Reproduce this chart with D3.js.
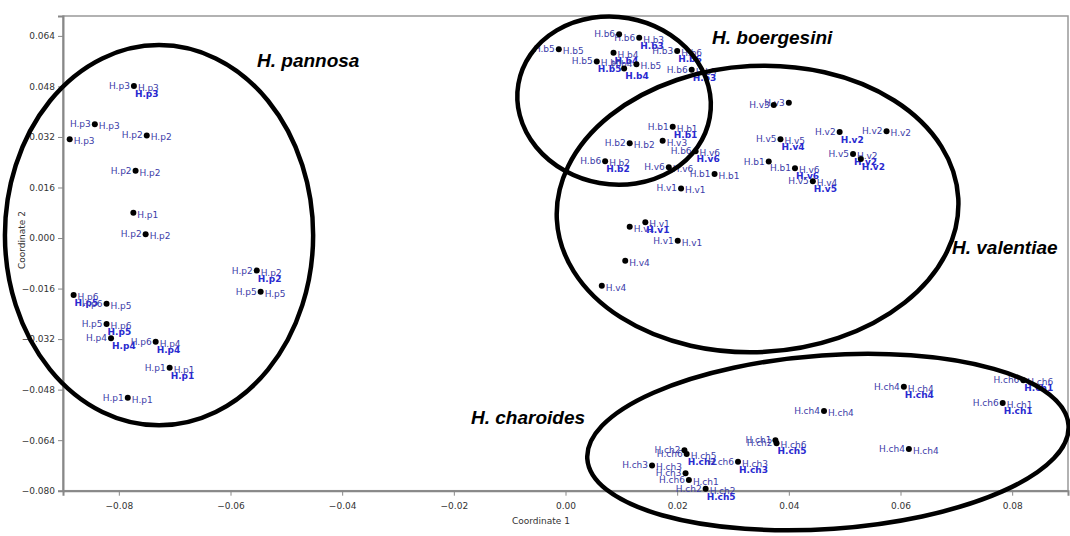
<!DOCTYPE html>
<html>
<head>
<meta charset="utf-8">
<script src="https://cdn.jsdelivr.net/npm/d3@7"></script>
<style>
  body { margin: 0; background: #fff; }
  svg { display: block; }
</style>
</head>
<body>
<div id="chart"></div>
<script>
// tick values
const xTicks = [-0.08, -0.06, -0.04, -0.02, 0.00, 0.02, 0.04, 0.06, 0.08];
const yTicks = [-0.080, -0.064, -0.048, -0.032, -0.016, 0.000, 0.016, 0.032, 0.048, 0.064];

// each point: coordinate 1, coordinate 2, labels [right, left, below]
const pannosa = [
  [-0.0773, 0.0481, ["H.p3", "H.p3", "H.p3"]],
  [-0.0843, 0.0360, ["H.p3", "H.p3", ""]],
  [-0.0888, 0.0313, ["H.p3", "", ""]],
  [-0.0750, 0.0325, ["H.p2", "H.p2", ""]],
  [-0.0770, 0.0213, ["H.p2", "H.p2", ""]],
  [-0.0774, 0.0080, ["H.p1", "", ""]],
  [-0.0752, 0.0012, ["H.p2", "H.p2", ""]],
  [-0.0553, -0.0103, ["H.p2", "H.p2", "H.p2"]],
  [-0.0546, -0.0170, ["H.p5", "H.p5", ""]],
  [-0.0881, -0.0180, ["H.p6", "", "H.p5"]],
  [-0.0822, -0.0208, ["H.p5", "H.p6", ""]],
  [-0.0822, -0.0272, ["H.p6", "H.p5", "H.p5"]],
  [-0.0814, -0.0317, ["", "H.p4", "H.p4"]],
  [-0.0734, -0.0328, ["H.p4", "H.p6", "H.p4"]],
  [-0.0709, -0.0411, ["H.p1", "H.p1", "H.p1"]],
  [-0.0784, -0.0506, ["H.p1", "H.p1", ""]]
];

const boergesini = [
  [0.0096, 0.0645, ["", "H.b6", ""]],
  [0.0132, 0.0634, ["H.b3", "H.b6", "H.b3"]],
  [-0.0012, 0.0598, ["H.b5", "H.b5", ""]],
  [0.0086, 0.0587, ["H.b4", "", "H.b4"]],
  [0.0200, 0.0592, ["H.b6", "H.b3", "H.b6"]],
  [0.0056, 0.0559, ["H.b5", "H.b5", "H.b5"]],
  [0.0127, 0.0550, ["H.b5", "H.b4", ""]],
  [0.0105, 0.0537, ["", "", "H.b4"]],
  [0.0226, 0.0533, ["H.b3", "H.b6", "H.b3"]]
];

const mixed = [
  [0.0192, 0.0352, ["H.b1", "H.b1", "H.b1"]],
  [0.0115, 0.0300, ["H.b2", "H.b2", ""]],
  [0.0174, 0.0308, ["H.v3", "", ""]],
  [0.0233, 0.0275, ["H.v6", "H.b6", "H.v6"]],
  [0.0071, 0.0243, ["H.b2", "H.b6", "H.b2"]],
  [0.0185, 0.0224, ["H.v6", "H.v6", ""]],
  [0.0267, 0.0203, ["H.b1", "H.b1", ""]],
  [0.0207, 0.0157, ["H.v1", "H.v1", ""]],
  [0.0115, 0.0036, ["H.v1", "", ""]],
  [0.0143, 0.0050, ["H.v1", "", "H.v1"]],
  [0.0201, -0.0009, ["H.v1", "H.v1", ""]],
  [0.0107, -0.0072, ["H.v4", "", ""]],
  [0.0065, -0.0151, ["H.v4", "", ""]]
];

const valentiae = [
  [0.0373, 0.0421, ["", "H.v3", ""]],
  [0.0400, 0.0428, ["", "H.v3", ""]],
  [0.0491, 0.0336, ["", "H.v2", "H.v2"]],
  [0.0575, 0.0338, ["H.v2", "H.v2", ""]],
  [0.0385, 0.0313, ["H.v5", "H.v5", "H.v4"]],
  [0.0515, 0.0266, ["H.v2", "H.v5", "H.v2"]],
  [0.0529, 0.0250, ["", "", "H.v2"]],
  [0.0364, 0.0242, ["", "H.b1", ""]],
  [0.0411, 0.0221, ["H.v6", "H.b1", "H.v6"]],
  [0.0443, 0.0180, ["H.v4", "H.v5", "H.v5"]]
];

const charoides = [
  [0.0217, -0.0684, ["H.ch5", "H.ch6", "H.ch2"]],
  [0.0213, -0.0672, ["", "H.ch2", ""]],
  [0.0155, -0.0720, ["H.ch3", "H.ch3", ""]],
  [0.0215, -0.0745, ["", "H.ch3", ""]],
  [0.0221, -0.0766, ["H.ch1", "H.ch6", ""]],
  [0.0251, -0.0794, ["H.ch2", "H.ch2", "H.ch5"]],
  [0.0309, -0.0708, ["H.ch3", "H.ch6", "H.ch3"]],
  [0.0378, -0.0650, ["H.ch6", "H.ch2", "H.ch5"]],
  [0.0376, -0.0640, ["", "H.ch1", ""]],
  [0.0463, -0.0548, ["H.ch4", "H.ch4", ""]],
  [0.0606, -0.0471, ["H.ch4", "H.ch4", "H.ch4"]],
  [0.0615, -0.0668, ["H.ch4", "H.ch4", ""]],
  [0.0783, -0.0522, ["H.ch1", "H.ch6", "H.ch1"]],
  [0.0820, -0.0450, ["H.ch6", "H.ch6", "H.ch1"]]
];

// group ellipses: name, centre x, centre y, radius x, radius y, rotation (deg)
const groups = [
  ["H. pannosa", -0.0728, 0.0009, 0.0276, 0.0602, 0],
  ["H. boergesini", 0.0087, 0.0435, 0.0174, 0.0265, 10],
  ["H. valentiae", 0.0344, 0.0092, 0.0360, 0.0453, -3],
  ["H. charoides", 0.0470, -0.0646, 0.0432, 0.0275, -4]
];

const W = 1070, H = 536;
const mLeft = 63, mRight = 1068, mTop = 16, mBottom = 490.7;

const svg = d3.select("#chart").append("svg")
  .attr("width", W)
  .attr("height", H)
  .style("font-family", "'DejaVu Sans', Tahoma, sans-serif");

const x = d3.scaleLinear().domain([-0.09, 0.09]).range([mLeft, mRight]);
const y = d3.scaleLinear().domain([-0.08, 0.0703]).range([mBottom, mTop]);

// frame
svg.append("rect")
  .attr("x", mLeft).attr("y", mTop)
  .attr("width", mRight - mLeft).attr("height", mBottom - mTop)
  .attr("fill", "none").attr("stroke", "#999").attr("stroke-width", 1.5);

// axes
const xAxis = svg.append("g")
  .attr("transform", "translate(0," + mBottom + ")")
  .call(d3.axisBottom(x).tickValues(xTicks).tickFormat(d3.format(".2f")).tickSizeOuter(0).tickSize(5));
const yAxis = svg.append("g")
  .attr("transform", "translate(" + mLeft + ",0)")
  .call(d3.axisLeft(y).tickValues(yTicks).tickFormat(d3.format(".3f")).tickSizeOuter(0).tickSize(5));

[xAxis, yAxis].forEach(g => {
  g.select(".domain").attr("stroke", "#888").attr("stroke-width", 2);
  g.selectAll(".tick line").attr("stroke", "#888");
  g.selectAll(".tick text")
    .attr("fill", "#333")
    .style("font-size", "9px")
    .style("font-family", "'DejaVu Sans', Tahoma, sans-serif");
});
xAxis.selectAll(".tick text").attr("dy", "1.2em");

svg.append("text")
  .attr("x", 541).attr("y", 524)
  .attr("text-anchor", "middle")
  .attr("fill", "#333").style("font-size", "9px")
  .text("Coordinate 1");

svg.append("text")
  .attr("transform", "translate(25,240) rotate(-90)")
  .attr("text-anchor", "middle")
  .attr("fill", "#333").style("font-size", "9px")
  .text("Coordinate 2");

// points and labels
const allPoints = [].concat(pannosa, boergesini, mixed, valentiae, charoides);
const labelColor = "#3c3ca8";

const pts = svg.append("g");
allPoints.forEach(p => {
  const px = x(p[0]), py = y(p[1]);
  const [rt, lf, bl] = p[2];
  if (rt) pts.append("text").attr("x", px + 4).attr("y", py + 5)
    .attr("fill", labelColor).style("font-size", "9px").text(rt);
  if (lf) pts.append("text").attr("x", px - 4).attr("y", py + 3)
    .attr("text-anchor", "end")
    .attr("fill", labelColor).style("font-size", "9px").text(lf);
  if (bl) pts.append("text").attr("x", px + 1).attr("y", py + 11)
    .attr("fill", "#2a2ad0").style("font-size", "9px").style("font-weight", "bold").text(bl);
});

pts.selectAll("circle")
  .data(allPoints)
  .enter()
  .append("circle")
  .attr("cx", d => x(d[0]))
  .attr("cy", d => y(d[1]))
  .attr("r", 3)
  .attr("fill", "#000");

// group ellipses
svg.append("g").selectAll("ellipse")
  .data(groups)
  .enter()
  .append("ellipse")
  .attr("cx", 0).attr("cy", 0)
  .attr("rx", d => x(d[1] + d[3]) - x(d[1]))
  .attr("ry", d => y(d[2]) - y(d[2] + d[4]))
  .attr("transform", d => "translate(" + x(d[1]) + "," + y(d[2]) + ") rotate(" + d[5] + ")")
  .attr("fill", "none")
  .attr("stroke", "#000")
  .attr("stroke-width", 4.5);

// group names
const namePos = [[257, 67], [712, 44], [952, 254], [471, 424]];
svg.append("g").selectAll("text")
  .data(groups)
  .enter()
  .append("text")
  .attr("x", (d, i) => namePos[i][0])
  .attr("y", (d, i) => namePos[i][1])
  .style("font-family", "'Liberation Sans', Arial, sans-serif")
  .style("font-size", "19px")
  .style("font-weight", "bold")
  .style("font-style", "italic")
  .attr("fill", "#000")
  .text(d => d[0]);
</script>
</body>
</html>
